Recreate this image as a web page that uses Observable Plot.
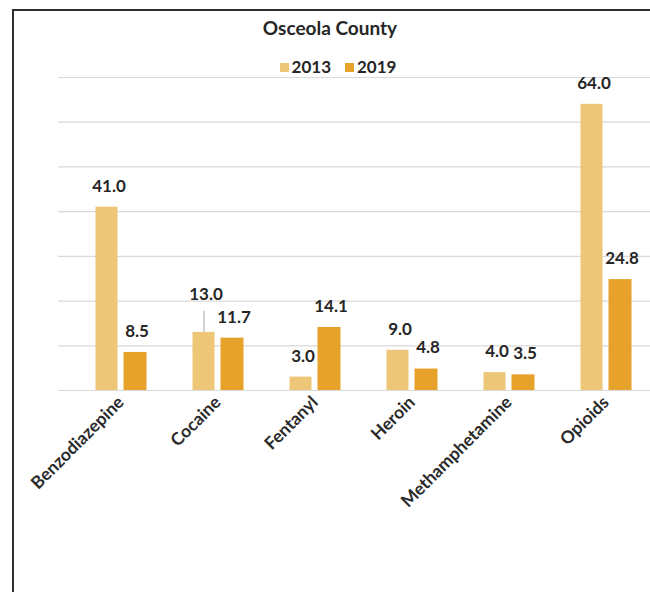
<!DOCTYPE html>
<html>
<head>
<meta charset="utf-8">
<script src="https://cdn.jsdelivr.net/npm/d3@7"></script>
<script src="https://cdn.jsdelivr.net/npm/@observablehq/plot@0.6"></script>
<style>
  html, body { margin: 0; padding: 0; background: #fff; }
  body { width: 650px; height: 592px; overflow: hidden; position: relative; font-family: Lato, "Open Sans", sans-serif; }
  #frame { position: absolute; left: 12px; top: 9px; width: 720px; height: 700px; border-left: 2px solid #2e2e2e; border-top: 2px solid #2e2e2e; }
  #title { position: absolute; left: 0; top: 17px; width: 660px; text-align: center; font-size: 19px; line-height: 22px; font-weight: bold; color: #262626; }
  #legend { position: absolute; left: 0; top: 57px; width: 676px; text-align: center; font-size: 17px; line-height: 20px; font-weight: bold; color: #262626; }
  #legend span.item { display: inline-block; margin: 0 7px; }
  #legend span.sw { display: inline-block; width: 9px; height: 9px; margin-right: 3px; vertical-align: 1px; }
  #chart { position: absolute; left: 0; top: 72px; }
</style>
</head>
<body>
<div id="frame"></div>
<div id="title">Osceola County</div>
<div id="legend"></div>
<div id="chart"></div>
<script>
const categories = ["Benzodiazepine", "Cocaine", "Fentanyl", "Heroin", "Methamphetamine", "Opioids"];
const values2013 = [41.0, 13.0, 3.0, 9.0, 4.0, 64.0];
const values2019 = [8.5, 11.7, 14.1, 4.8, 3.5, 24.8];
const seriesNames = ["2013", "2019"];
const seriesColors = ["#EDC677", "#E6A22A"];
const yTicks = [0, 10, 20, 30, 40, 50, 60, 70];

const rows2013 = categories.map((c, i) => ({cat: c, v: values2013[i]}));
const rows2019 = categories.map((c, i) => ({cat: c, v: values2019[i]}));
const fmt = d => d.v.toFixed(1);

// legend
const legend = document.getElementById("legend");
seriesNames.forEach((n, i) => {
  const item = document.createElement("span");
  item.className = "item";
  const sw = document.createElement("span");
  sw.className = "sw";
  sw.style.background = seriesColors[i];
  item.appendChild(sw);
  item.appendChild(document.createTextNode(n));
  legend.appendChild(item);
});

const labelStyle = {fontSize: 17, fontWeight: "bold", fill: "#262626", letterSpacing: "0.5px"};
const isCoc = d => d.cat === "Cocaine";

const chart = Plot.plot({
  width: 650,
  height: 470,
  marginTop: 5,
  marginBottom: 152,
  marginLeft: 58,
  marginRight: 0,
  style: {fontFamily: "Lato, 'Open Sans', sans-serif", fontSize: "17.5px", fontWeight: "bold", color: "#2a2a2a", background: "transparent"},
  x: {domain: categories, range: [71.5, 653.5], padding: 0, tickRotate: -45, tickSize: 0, tickPadding: 9, label: null},
  y: {domain: [0, 70], axis: null},
  marks: [
    Plot.ruleY(yTicks, {stroke: "#d9d9d9", strokeWidth: 1.2}),
    Plot.barY(rows2013, {x: "cat", y: "v", fill: seriesColors[0], insetLeft: 23.5, insetRight: 51.5}),
    Plot.barY(rows2019, {x: "cat", y: "v", fill: seriesColors[1], insetLeft: 51.5, insetRight: 22.5}),
    Plot.text(rows2013.filter(d => !isCoc(d)), {x: "cat", y: "v", text: fmt, dx: -12, dy: -21, ...labelStyle}),
    Plot.text(rows2013.filter(isCoc), {x: "cat", y: "v", text: fmt, dx: -12, dy: -38, ...labelStyle}),
    Plot.ruleX(rows2013.filter(isCoc), {x: "cat", y1: "v", y2: "v", dx: -14, insetTop: -21, stroke: "#a6a6a6", strokeWidth: 1}),
    Plot.text(rows2019, {x: "cat", y: "v", text: fmt, dx: 16, dy: -21, ...labelStyle})
  ]
});
document.getElementById("chart").appendChild(chart);
</script>
</body>
</html>
